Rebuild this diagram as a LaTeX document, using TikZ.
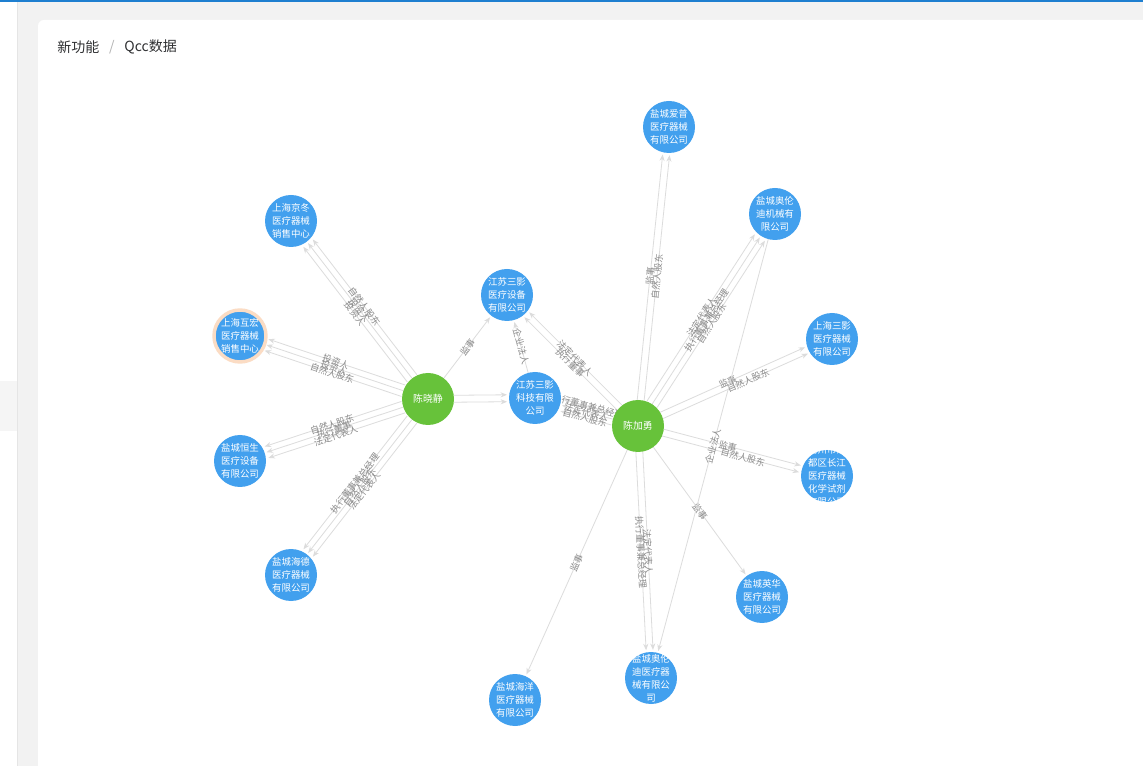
\documentclass[tikz,border=0pt]{standalone}
\usepackage{fontspec}
\setmainfont{Noto Sans CJK SC}
\usepackage{tikz}
\usetikzlibrary{positioning,arrows.meta,calc,backgrounds}
\definecolor{compc}{HTML}{42A0EE}
\definecolor{persc}{HTML}{67C23A}
\definecolor{edgec}{HTML}{DCDCDC}
\definecolor{labc}{HTML}{8A8A8A}
\definecolor{pagec}{HTML}{F2F2F2}
\definecolor{barc}{HTML}{1E7FD0}
\definecolor{glowc}{HTML}{FBDCC4}
\definecolor{navc}{HTML}{303133}
\tikzset{
  comp/.style={circle, fill=compc, minimum size=39pt, inner sep=0pt},
  ctext/.style={text=white, align=center, inner sep=0pt, font=\fontsize{7.1}{9.75}\selectfont},
  pers/.style={circle, fill=persc, minimum size=39pt, inner sep=0pt, text=white,
               font=\fontsize{7.4}{9}\selectfont},
  hl/.style={draw=glowc, line width=2.6pt},
  edge/.style={draw=edgec, line width=0.6pt, -{Stealth[length=4.8pt, width=3.8pt]},
               shorten <=19.5pt, shorten >=21pt},
  elabel/.style={sloped, font=\fontsize{6.8}{7}\selectfont, text=labc, inner sep=0.5pt},
  crumb/.style={font=\fontsize{10.5}{12}\selectfont, text=navc, inner sep=0pt, anchor=west},
}

\begin{document}
\begin{tikzpicture}[x=0.75pt, y=-0.75pt]
  \useasboundingbox (0,0) rectangle (1143,766);
  % page frame
  \begin{scope}[on background layer]
    \fill[pagec] (0,0) rectangle (1143,766);
    \fill[white] (0,0) rectangle (17,766);
    \fill[black!4] (0,381) rectangle (17,431);
    \draw[black!10] (17.5,0) -- (17.5,766);
    \fill[white, rounded corners=4.5pt] (38,20) rectangle (1170,800);
    \fill[barc] (0,0) rectangle (1143,1.6);
  \end{scope}

  \node[crumb] (nav) at (57,47) {新功能};
  \node[crumb, text=black!30, right=7pt of nav] (navsep) {/};
  \node[crumb, right=7pt of navsep] (navcur) {Qcc数据};

  % people
  \node[pers] (xj) at (428,399) {陈晓静};
  \node[pers] (jy) at (638,426) {陈加勇};

  % companies
  \node[comp, label={[ctext]center:上海京冬\\医疗器械\\销售中心}] (jd) at (291,221) {};
  \node[comp, hl, label={[ctext]center:上海互宏\\医疗器械\\销售中心}] (hh) at (240,336) {};
  \node[comp, label={[ctext]center:盐城恒生\\医疗设备\\有限公司}] (hs) at (240,461) {};
  \node[comp, label={[ctext]center:盐城海德\\医疗器械\\有限公司}] (hd) at (291,575) {};
  \node[comp, label={[ctext]center:江苏三影\\医疗设备\\有限公司}] (yl) at (507,295) {};
  \node[comp, label={[ctext]center:江苏三影\\科技有限\\公司}] (kj) at (535,398) {};
  \node[comp, label={[ctext]center:盐城爱普\\医疗器械\\有限公司}] (ap) at (669,127) {};
  \node[comp, label={[ctext]center:盐城奥伦\\迪机械有\\限公司}] (alj) at (775,214) {};
  \node[comp, label={[ctext]center:上海三影\\医疗器械\\有限公司}] (sy) at (832,339) {};
  \node[comp, label={[ctext]center:扬州市江\\都区长江\\医疗器械\\化学试剂\\有限公司}] (yz) at (827,476) {};
  \node[comp, label={[ctext]center:盐城英华\\医疗器械\\有限公司}] (yh) at (762,597) {};
  \node[comp, label={[ctext]center:盐城奥伦\\迪医疗器\\械有限公\\司}] (aly) at (651,678) {};
  \node[comp, label={[ctext]center:盐城海洋\\医疗器械\\有限公司}] (hy) at (515,700) {};

  \begin{scope}[on background layer]
    % 陈晓静
    \draw[edge] ($(xj)!-4.5pt!90:(jd)$) -- node[elabel]{自然人股东} ($(jd)!-4.5pt!-90:(xj)$);
    \draw[edge] ($(xj)!0pt!90:(jd)$) -- node[elabel]{投资人} ($(jd)!0pt!-90:(xj)$);
    \draw[edge] ($(xj)!4.5pt!90:(jd)$) -- node[elabel]{投资人} ($(jd)!4.5pt!-90:(xj)$);
    \draw[edge] ($(xj)!-4.5pt!90:(hh)$) -- node[elabel]{投资人} ($(hh)!-4.5pt!-90:(xj)$);
    \draw[edge] ($(xj)!0pt!90:(hh)$) -- node[elabel]{投资人} ($(hh)!0pt!-90:(xj)$);
    \draw[edge] ($(xj)!4.5pt!90:(hh)$) -- node[elabel]{自然人股东} ($(hh)!4.5pt!-90:(xj)$);
    \draw[edge] ($(xj)!-4.5pt!90:(hs)$) -- node[elabel]{自然人股东} ($(hs)!-4.5pt!-90:(xj)$);
    \draw[edge] ($(xj)!0pt!90:(hs)$) -- node[elabel]{执行董事} ($(hs)!0pt!-90:(xj)$);
    \draw[edge] ($(xj)!4.5pt!90:(hs)$) -- node[elabel]{法定代表人} ($(hs)!4.5pt!-90:(xj)$);
    \draw[edge] ($(xj)!-4.5pt!90:(hd)$) -- node[elabel]{执行董事兼总经理} ($(hd)!-4.5pt!-90:(xj)$);
    \draw[edge] ($(xj)!0pt!90:(hd)$) -- node[elabel]{自然人股东} ($(hd)!0pt!-90:(xj)$);
    \draw[edge] ($(xj)!4.5pt!90:(hd)$) -- node[elabel]{法定代表人} ($(hd)!4.5pt!-90:(xj)$);
    \draw[edge] (xj.center) -- node[elabel]{监事} (yl.center);
    \draw[edge] ($(xj)!-2.6pt!90:(kj)$) -- ($(kj)!-2.6pt!-90:(xj)$);
    \draw[edge] ($(xj)!2.6pt!90:(kj)$) -- ($(kj)!2.6pt!-90:(xj)$);
    \draw[edge] (kj.center) -- node[elabel]{企业法人} (yl.center);
    % 陈加勇
    \draw[edge] ($(jy)!-2.6pt!90:(yl)$) -- node[elabel]{法定代表人} ($(yl)!-2.6pt!-90:(jy)$);
    \draw[edge] ($(jy)!2.6pt!90:(yl)$) -- node[elabel]{执行董事} ($(yl)!2.6pt!-90:(jy)$);
    \draw[edge] ($(jy)!-4.5pt!90:(kj)$) -- node[elabel]{执行董事兼总经理} ($(kj)!-4.5pt!-90:(jy)$);
    \draw[edge] ($(jy)!0pt!90:(kj)$) -- node[elabel]{法定代表人} ($(kj)!0pt!-90:(jy)$);
    \draw[edge] ($(jy)!4.5pt!90:(kj)$) -- node[elabel]{自然人股东} ($(kj)!4.5pt!-90:(jy)$);
    \draw[edge] ($(jy)!-2.6pt!90:(ap)$) -- node[elabel]{自然人股东} ($(ap)!-2.6pt!-90:(jy)$);
    \draw[edge] ($(jy)!2.6pt!90:(ap)$) -- node[elabel]{监事} ($(ap)!2.6pt!-90:(jy)$);
    \draw[edge] ($(jy)!-4.5pt!90:(alj)$) -- node[elabel]{自然人股东} ($(alj)!-4.5pt!-90:(jy)$);
    \draw[edge] ($(jy)!0pt!90:(alj)$) -- node[elabel]{执行董事兼总经理} ($(alj)!0pt!-90:(jy)$);
    \draw[edge] ($(jy)!4.5pt!90:(alj)$) -- node[elabel]{法定代表人} ($(alj)!4.5pt!-90:(jy)$);
    \draw[edge] ($(jy)!-2.6pt!90:(sy)$) -- node[elabel, pos=0.56]{自然人股东} ($(sy)!-2.6pt!-90:(jy)$);
    \draw[edge] ($(jy)!2.6pt!90:(sy)$) -- node[elabel, pos=0.47]{监事} ($(sy)!2.6pt!-90:(jy)$);
    \draw[edge] ($(jy)!-2.6pt!90:(yz)$) -- node[elabel, pos=0.56]{自然人股东} ($(yz)!-2.6pt!-90:(jy)$);
    \draw[edge] ($(jy)!2.6pt!90:(yz)$) -- node[elabel, pos=0.47]{监事} ($(yz)!2.6pt!-90:(jy)$);
    \draw[edge] (jy.center) -- node[elabel]{监事} (yh.center);
    \draw[edge] ($(jy)!-2.6pt!90:(aly)$) -- node[elabel]{执行董事兼总经理} ($(aly)!-2.6pt!-90:(jy)$);
    \draw[edge] ($(jy)!2.6pt!90:(aly)$) -- node[elabel]{法定代表人} ($(aly)!2.6pt!-90:(jy)$);
    \draw[edge] (jy.center) -- node[elabel]{监事} (hy.center);
    \draw[edge] (alj.center) -- node[elabel]{企业法人} (aly.center);
  \end{scope}
\end{tikzpicture}
\end{document}
